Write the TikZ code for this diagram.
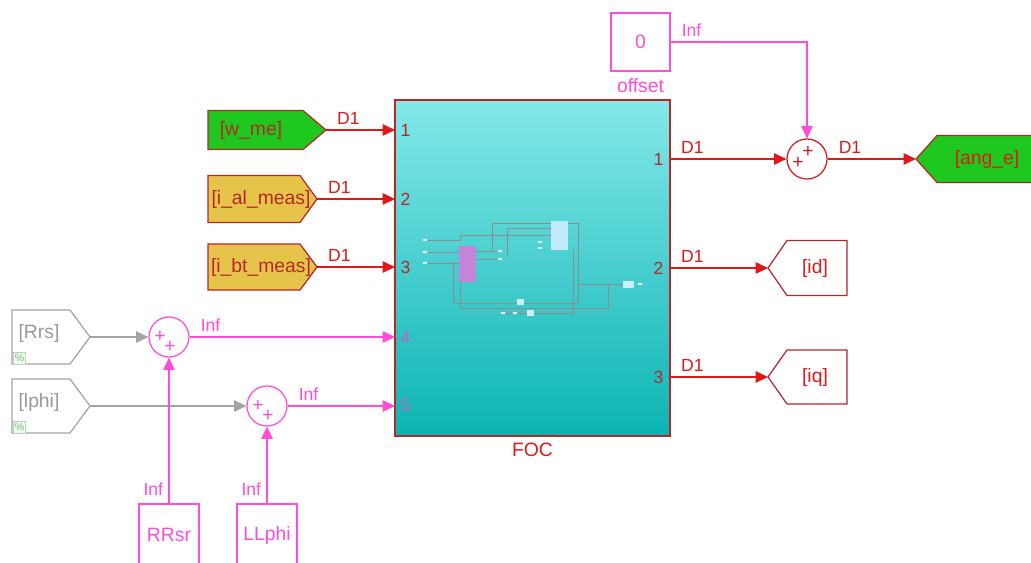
\documentclass[tikz,border=0pt]{standalone}
\usepackage{fontspec}
\setmainfont{Liberation Sans}
\usetikzlibrary{arrows.meta}
\definecolor{sigred}{HTML}{E01818}
\definecolor{blkred}{HTML}{B42828}
\definecolor{sigmag}{HTML}{FF4CDA}
\definecolor{portmag}{HTML}{B868C8}
\definecolor{frgreen}{HTML}{1EC81E}
\definecolor{frgold}{HTML}{E6C44A}
\definecolor{frgray}{HTML}{A4A4A4}
\definecolor{foctop}{HTML}{84E8EA}
\definecolor{focbot}{HTML}{0CB4B4}
\definecolor{mulpurple}{HTML}{C484D8}
\begin{document}
\begin{tikzpicture}[x=0.02cm,y=-0.02cm,>={Triangle[length=7pt,width=6.5pt]},line width=0.7pt,
	font=\fontsize{10}{12}\selectfont,
	blktext/.style={font=\fontsize{11}{13}\selectfont},
	sumblk/.style={circle,draw,fill=white,minimum size=0.8cm,inner sep=0pt},
	plus/.style={inner sep=0pt,font=\fontsize{11}{11}\selectfont},
	sigline/.style={->,sigred},
	magline/.style={->,sigmag},
	grayline/.style={->,frgray},
	lbl/.style={pos=0,above right,xshift=3pt,inner sep=3pt},
	vlbl/.style={pos=0,above left,inner sep=3pt,yshift=1pt}]
	\useasboundingbox[fill=white] (0,0) rectangle (1031,562);
	% FOC subsystem
	\node[draw=blkred,top color=foctop,bottom color=focbot,minimum width=5.5cm,minimum height=6.72cm,inner sep=0pt,
		label={[text=sigred,blktext]below:FOC}] (foc) at (532.5,268) {};
	\begin{scope}[line width=0.25pt,black!45]
		\draw (427,240) -- (460,240) |- (551,235);
		\draw (427,252) -- (459,252);
		\draw (427,263) -- (459,263);
		\draw (476,251) -- (500,251);
		\draw (476,259) -- (500,259);
		\draw (492,252) -- (492,223) -- (580,223);
		\draw (507,257) -- (507,228) -- (551,228);
		\draw (578,223) -- (578,303) -- (453,303) -- (453,262);
		\draw (578,284) -- (623,284);
		\draw (608,284) -- (608,308) -- (460,308) -- (460,282);
		\draw (503,313) -- (573,313) -- (573,250);
	\end{scope}
	\fill[white!75!cyan] (551,221) rectangle (568,250);
	\fill[mulpurple] (459,246) rectangle (476,282);
	\fill[white!80!cyan] (623,281) rectangle (634,288);
	\fill[white!80!cyan] (517,299) rectangle (524,305);
	\fill[white!80!cyan] (527,310) rectangle (534,316);
	\foreach \px/\py in {425/240,425/252,425/263,500/251,500/259,540/242,540/248,640/284,503/313,515/313}{
		\fill[white!85!cyan] (\px,\py) ellipse (2.5 and 1.2);
	}
	% ports
	\foreach \i/\py/\col in {1/130/blkred,2/199/blkred,3/267/blkred,4/337/portmag,5/406/portmag}{
		\coordinate (in\i) at (395,\py);
		\node[anchor=west,text=\col,inner sep=0pt] (inlbl\i) at (400,\py) {\i};
	}
	\foreach \i/\py in {1/159,2/268,3/377}{
		\coordinate (out\i) at (670,\py);
		\node[anchor=east,text=blkred,inner sep=0pt] (outlbl\i) at (664,\py) {\i};
	}
	% from blocks
	\foreach \nm/\py/\hh/\fe/\tip/\txt/\col/\tx in {wme/130/19.5/303/326/{[w\_me]}/frgreen/251,
		ial/199/23.5/300/317/{[i\_al\_meas]}/frgold/261,ibt/267/23/300/317/{[i\_bt\_meas]}/frgold/261}{
		\draw[blkred,fill=\col] (208,\py-\hh) -- (\fe,\py-\hh) -- (\tip,\py) -- (\fe,\py+\hh) -- (208,\py+\hh) -- cycle;
		\node[blktext,text=blkred] (\nm) at (\tx,\py) {\txt};
		\coordinate (\nm-tip) at (\tip,\py);
	}
	\foreach \nm/\py/\txt in {rrs/337/{[Rrs]},lphi/406/{[lphi]}}{
		\draw[frgray,fill=white] (12,\py-27) -- (70,\py-27) -- (90,\py) -- (70,\py+27) -- (12,\py+27) -- cycle;
		\node[blktext,text=black!40] (\nm) at (39,\py-4) {\txt};
		\node[draw=green!25!black!25,fill=green!8,line width=0.4pt,minimum size=0.24cm,inner sep=0pt,
			font=\fontsize{6}{6}\selectfont,text=green!30!black!45] (\nm-pct) at (19.5,\py+21) {\%};
		\coordinate (\nm-tip) at (90,\py);
	}
	% goto blocks
	\foreach \nm/\py/\hh/\tip/\fe/\rx/\txt/\col/\tx in {id/268/27.5/768/787/847/{[id]}/white/815,
		iq/377/27/768/787/847/{[iq]}/white/815,ange/159/23.5/916/937/1060/{[ang\_e]}/frgreen/987}{
		\draw[blkred,fill=\col] (\rx,\py-\hh) -- (\fe,\py-\hh) -- (\tip,\py) -- (\fe,\py+\hh) -- (\rx,\py+\hh) -- cycle;
		\node[blktext,text=sigred] (\nm) at (\tx,\py) {\txt};
		\coordinate (\nm-tip) at (\tip,\py);
	}
	% sums and constants
	\node[sumblk,draw=sigmag] (sumr) at (169,337) {};
	\node[sumblk,draw=sigmag] (suml) at (267,406) {};
	\node[sumblk,draw=sigred] (sumo) at (807,159) {};
	\node[plus,text=sigmag] (sumrp1) at (160,337) {+};
	\node[plus,text=sigmag] (sumrp2) at (170,347) {+};
	\node[plus,text=sigmag] (sumlp1) at (258,406) {+};
	\node[plus,text=sigmag] (sumlp2) at (268,416) {+};
	\node[plus,text=blkred] (sumop1) at (798,163) {+};
	\node[plus,text=blkred] (sumop2) at (808,152) {+};
	\node[draw=sigmag,text=sigmag,blktext,minimum width=1.18cm,minimum height=1.16cm,inner sep=0pt,
		label={[text=sigmag,blktext]below:offset}] (ofs) at (640.5,42) {0};
	\node[draw=sigmag,text=sigmag,blktext,minimum width=1.2cm,minimum height=1.24cm,inner sep=0pt] (rrsr) at (169,535) {RRsr};
	\node[draw=sigmag,text=sigmag,blktext,minimum width=1.2cm,minimum height=1.24cm,inner sep=0pt] (llphi) at (267,535) {LLphi};
	% signals
	\draw[sigline] (wme-tip) -- (in1) node[lbl] {D1};
	\draw[sigline] (ial-tip) -- (in2) node[lbl] {D1};
	\draw[sigline] (ibt-tip) -- (in3) node[lbl] {D1};
	\draw[grayline] (rrs-tip) -- (sumr.west);
	\draw[grayline] (lphi-tip) -- (suml.west);
	\draw[magline] (rrsr.north) -- (sumr.south) node[vlbl] {Inf};
	\draw[magline] (llphi.north) -- (suml.south) node[vlbl] {Inf};
	\draw[magline] (sumr.east) -- (in4) node[lbl] {Inf};
	\draw[magline] (suml.east) -- (in5) node[lbl] {Inf};
	\draw[magline] (ofs.east) -| (sumo.north) node[lbl] {Inf};
	\draw[sigline] (out1) -- (sumo.west) node[lbl] {D1};
	\draw[sigline] (sumo.east) -- (ange-tip) node[lbl] {D1};
	\draw[sigline] (out2) -- (id-tip) node[lbl] {D1};
	\draw[sigline] (out3) -- (iq-tip) node[lbl] {D1};
\end{tikzpicture}
\end{document}
